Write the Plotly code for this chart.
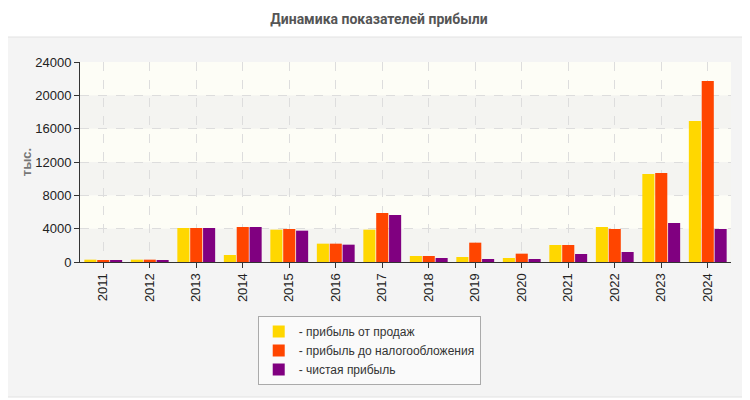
import plotly.graph_objects as go

# ─── DATOS ────────────────────────────────────────────────────────────────────
years = ["2011", "2012", "2013", "2014", "2015", "2016", "2017",
         "2018", "2019", "2020", "2021", "2022", "2023", "2024"]
sales_profit = [280, 280, 4080, 840, 3880, 2200, 3880,
                720, 600, 480, 2040, 4200, 10560, 16920]
pretax_profit = [160, 280, 4080, 4200, 3960, 2200, 5880,
                 720, 2320, 1000, 2040, 3960, 10680, 21720]
net_profit = [160, 160, 4080, 4200, 3760, 2080, 5640,
              480, 360, 360, 960, 1200, 4680, 3960]

series_names = ["- прибыль от продаж", "- прибыль до налогообложения", "- чистая прибыль"]
series_colors = ["#FFD700", "#FF4500", "#800080"]

# ─── FIGURA ───────────────────────────────────────────────────────────────────
fig = go.Figure()
for name, vals, col in zip(series_names, [sales_profit, pretax_profit, net_profit], series_colors):
    fig.add_trace(go.Bar(
        x=years, y=vals, name=name,
        marker=dict(color=col, line=dict(width=0)),
    ))

# panel gris de fondo (coordenadas paper, fuera del área de trazado)
fig.add_shape(type="rect", xref="paper", yref="paper",
              x0=-0.1198, x1=1.026, y0=-0.675, y1=1.125,
              fillcolor="#f4f4f4", line=dict(color="#e2e2e2", width=1), layer="below")
# área de trazado crema
fig.add_shape(type="rect", xref="paper", yref="paper",
              x0=0, x1=1, y0=0, y1=1,
              fillcolor="#fdfdf6", line=dict(width=0), layer="below")
# bandas alternas (rayadas en el original)
for lo in [0, 8000, 16000]:
    fig.add_shape(type="rect", xref="paper", yref="y",
                  x0=0, x1=1, y0=lo, y1=lo + 4000,
                  fillcolor="#f4f4f1", line=dict(width=0), layer="below")

fig.update_layout(
    width=742, height=392,
    margin=dict(l=72, r=19, t=54, b=138),
    paper_bgcolor="white",
    plot_bgcolor="rgba(0,0,0,0)",
    font=dict(family="Liberation Sans, Arial, sans-serif", size=13, color="#222"),
    title=dict(text="<b>Динамика показателей прибыли</b>", x=0.5, xanchor="center",
               y=0.972, yanchor="middle",
               font=dict(family="Roboto, sans-serif", size=14, color="#555")),
    barmode="group", bargap=0.17, bargroupgap=0.06,
    showlegend=True,
    legend=dict(x=0.273, xanchor="left", y=-0.27, yanchor="top",
                bgcolor="#fafafa", bordercolor="#aaaaaa", borderwidth=1,
                font=dict(size=12, color="#333"), tracegroupgap=0,
                itemwidth=30),
)

fig.update_xaxes(
    tickangle=-90, showline=True, linecolor="#333", linewidth=1,
    ticks="outside", ticklen=5, tickcolor="#333",
    showgrid=True, gridcolor="#dddddd", griddash="dash",
    tickfont=dict(size=13, color="#222"), automargin=False,
)
fig.update_yaxes(
    range=[0, 24000], tickvals=[0, 4000, 8000, 12000, 16000, 20000, 24000],
    tickformat="d", automargin=False,
    showline=True, linecolor="#333", linewidth=1,
    ticks="outside", ticklen=5, tickcolor="#333",
    showgrid=True, gridcolor="#dddddd", griddash="dash", zeroline=False,
    tickfont=dict(size=13, color="#222"),
    title=dict(text="<b>тыс.</b>", font=dict(size=13, color="#777"), standoff=0),
)

fig.write_html("out.html")
